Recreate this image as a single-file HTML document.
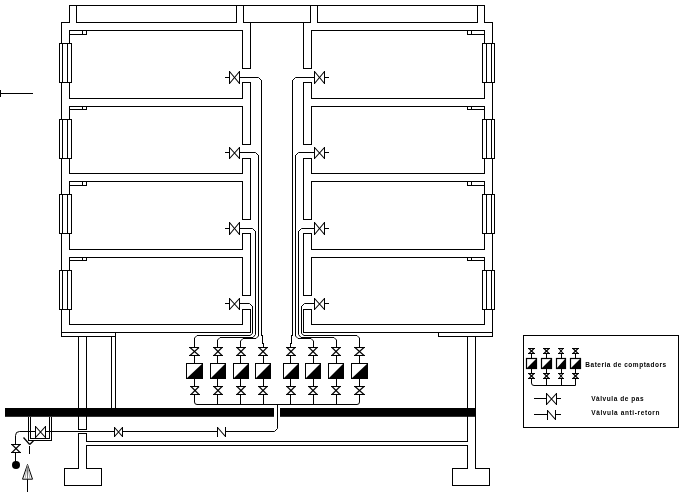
<!DOCTYPE html>
<html lang="ca"><head><meta charset="utf-8"><title>Esquema instal·lació</title>
<style>
html,body{margin:0;padding:0;background:#fff;}
svg{display:block;}
.t{font-family:"Liberation Sans",sans-serif;font-weight:bold;font-size:6.5px;fill:#000;}
</style></head>
<body>
<svg width="687" height="492" viewBox="0 0 687 492" fill="#000">
<rect x="0" y="0" width="687" height="492" fill="#fff"/>
<rect x="69" y="5" width="416" height="1"/>
<rect x="69" y="5" width="1" height="18"/>
<rect x="76" y="5" width="1" height="18"/>
<rect x="236" y="5" width="1" height="18"/>
<rect x="243" y="5" width="1" height="18"/>
<rect x="310" y="5" width="1" height="18"/>
<rect x="317" y="5" width="1" height="18"/>
<rect x="477" y="5" width="1" height="18"/>
<rect x="484" y="5" width="1" height="18"/>
<rect x="61" y="22" width="9" height="1"/>
<rect x="76" y="22" width="161" height="1"/>
<rect x="243" y="22" width="68" height="1"/>
<rect x="317" y="22" width="161" height="1"/>
<rect x="484" y="22" width="9" height="1"/>
<rect x="61" y="22" width="1" height="22"/>
<rect x="61" y="82" width="1" height="38"/>
<rect x="61" y="158" width="1" height="37"/>
<rect x="61" y="233" width="1" height="38"/>
<rect x="61" y="309" width="1" height="28"/>
<rect x="69" y="30" width="1" height="14"/>
<rect x="69" y="82" width="1" height="17"/>
<rect x="59" y="43" width="1" height="40"/>
<rect x="62" y="43" width="1" height="40"/>
<rect x="67" y="43" width="1" height="40"/>
<rect x="71" y="43" width="1" height="40"/>
<rect x="59" y="43" width="13" height="1"/>
<rect x="59" y="82" width="13" height="1"/>
<rect x="69" y="30" width="174" height="1"/>
<rect x="69" y="98" width="174" height="1"/>
<rect x="69" y="34" width="18" height="1"/>
<rect x="82" y="30" width="1" height="5"/>
<rect x="86" y="30" width="1" height="5"/>
<rect x="242" y="30" width="1" height="39"/>
<rect x="242" y="82" width="1" height="17"/>
<rect x="242" y="68" width="9" height="1"/>
<rect x="242" y="82" width="9" height="1"/>
<rect x="69" y="106" width="1" height="14"/>
<rect x="69" y="158" width="1" height="16"/>
<rect x="59" y="119" width="1" height="40"/>
<rect x="62" y="119" width="1" height="40"/>
<rect x="67" y="119" width="1" height="40"/>
<rect x="71" y="119" width="1" height="40"/>
<rect x="59" y="119" width="13" height="1"/>
<rect x="59" y="158" width="13" height="1"/>
<rect x="69" y="106" width="174" height="1"/>
<rect x="69" y="173" width="174" height="1"/>
<rect x="69" y="109" width="18" height="1"/>
<rect x="82" y="106" width="1" height="4"/>
<rect x="86" y="106" width="1" height="4"/>
<rect x="242" y="106" width="1" height="39"/>
<rect x="242" y="158" width="1" height="16"/>
<rect x="242" y="144" width="9" height="1"/>
<rect x="242" y="158" width="9" height="1"/>
<rect x="69" y="181" width="1" height="14"/>
<rect x="69" y="233" width="1" height="17"/>
<rect x="59" y="194" width="1" height="40"/>
<rect x="62" y="194" width="1" height="40"/>
<rect x="67" y="194" width="1" height="40"/>
<rect x="71" y="194" width="1" height="40"/>
<rect x="59" y="194" width="13" height="1"/>
<rect x="59" y="233" width="13" height="1"/>
<rect x="69" y="181" width="174" height="1"/>
<rect x="69" y="249" width="174" height="1"/>
<rect x="69" y="185" width="18" height="1"/>
<rect x="82" y="181" width="1" height="5"/>
<rect x="86" y="181" width="1" height="5"/>
<rect x="242" y="181" width="1" height="39"/>
<rect x="242" y="233" width="1" height="17"/>
<rect x="242" y="219" width="9" height="1"/>
<rect x="242" y="233" width="9" height="1"/>
<rect x="69" y="257" width="1" height="14"/>
<rect x="69" y="309" width="1" height="16"/>
<rect x="59" y="270" width="1" height="40"/>
<rect x="62" y="270" width="1" height="40"/>
<rect x="67" y="270" width="1" height="40"/>
<rect x="71" y="270" width="1" height="40"/>
<rect x="59" y="270" width="13" height="1"/>
<rect x="59" y="309" width="13" height="1"/>
<rect x="69" y="257" width="174" height="1"/>
<rect x="69" y="324" width="174" height="1"/>
<rect x="69" y="260" width="18" height="1"/>
<rect x="82" y="257" width="1" height="4"/>
<rect x="86" y="257" width="1" height="4"/>
<rect x="242" y="257" width="1" height="39"/>
<rect x="242" y="309" width="1" height="16"/>
<rect x="242" y="295" width="9" height="1"/>
<rect x="242" y="309" width="9" height="1"/>
<rect x="250" y="22" width="1" height="47"/>
<rect x="250" y="82" width="1" height="63"/>
<rect x="250" y="158" width="1" height="62"/>
<rect x="250" y="233" width="1" height="63"/>
<rect x="250" y="309" width="1" height="24"/>
<rect x="61" y="332" width="190" height="1"/>
<rect x="492" y="22" width="1" height="22"/>
<rect x="492" y="82" width="1" height="38"/>
<rect x="492" y="158" width="1" height="37"/>
<rect x="492" y="233" width="1" height="38"/>
<rect x="492" y="309" width="1" height="28"/>
<rect x="484" y="30" width="1" height="14"/>
<rect x="484" y="82" width="1" height="17"/>
<rect x="494" y="43" width="1" height="40"/>
<rect x="491" y="43" width="1" height="40"/>
<rect x="486" y="43" width="1" height="40"/>
<rect x="482" y="43" width="1" height="40"/>
<rect x="482" y="43" width="13" height="1"/>
<rect x="482" y="82" width="13" height="1"/>
<rect x="311" y="30" width="174" height="1"/>
<rect x="311" y="98" width="174" height="1"/>
<rect x="467" y="34" width="18" height="1"/>
<rect x="471" y="30" width="1" height="5"/>
<rect x="467" y="30" width="1" height="5"/>
<rect x="311" y="30" width="1" height="39"/>
<rect x="311" y="82" width="1" height="17"/>
<rect x="303" y="68" width="9" height="1"/>
<rect x="303" y="82" width="9" height="1"/>
<rect x="484" y="106" width="1" height="14"/>
<rect x="484" y="158" width="1" height="16"/>
<rect x="494" y="119" width="1" height="40"/>
<rect x="491" y="119" width="1" height="40"/>
<rect x="486" y="119" width="1" height="40"/>
<rect x="482" y="119" width="1" height="40"/>
<rect x="482" y="119" width="13" height="1"/>
<rect x="482" y="158" width="13" height="1"/>
<rect x="311" y="106" width="174" height="1"/>
<rect x="311" y="173" width="174" height="1"/>
<rect x="467" y="109" width="18" height="1"/>
<rect x="471" y="106" width="1" height="4"/>
<rect x="467" y="106" width="1" height="4"/>
<rect x="311" y="106" width="1" height="39"/>
<rect x="311" y="158" width="1" height="16"/>
<rect x="303" y="144" width="9" height="1"/>
<rect x="303" y="158" width="9" height="1"/>
<rect x="484" y="181" width="1" height="14"/>
<rect x="484" y="233" width="1" height="17"/>
<rect x="494" y="194" width="1" height="40"/>
<rect x="491" y="194" width="1" height="40"/>
<rect x="486" y="194" width="1" height="40"/>
<rect x="482" y="194" width="1" height="40"/>
<rect x="482" y="194" width="13" height="1"/>
<rect x="482" y="233" width="13" height="1"/>
<rect x="311" y="181" width="174" height="1"/>
<rect x="311" y="249" width="174" height="1"/>
<rect x="467" y="185" width="18" height="1"/>
<rect x="471" y="181" width="1" height="5"/>
<rect x="467" y="181" width="1" height="5"/>
<rect x="311" y="181" width="1" height="39"/>
<rect x="311" y="233" width="1" height="17"/>
<rect x="303" y="219" width="9" height="1"/>
<rect x="303" y="233" width="9" height="1"/>
<rect x="484" y="257" width="1" height="14"/>
<rect x="484" y="309" width="1" height="16"/>
<rect x="494" y="270" width="1" height="40"/>
<rect x="491" y="270" width="1" height="40"/>
<rect x="486" y="270" width="1" height="40"/>
<rect x="482" y="270" width="1" height="40"/>
<rect x="482" y="270" width="13" height="1"/>
<rect x="482" y="309" width="13" height="1"/>
<rect x="311" y="257" width="174" height="1"/>
<rect x="311" y="324" width="174" height="1"/>
<rect x="467" y="260" width="18" height="1"/>
<rect x="471" y="257" width="1" height="4"/>
<rect x="467" y="257" width="1" height="4"/>
<rect x="311" y="257" width="1" height="39"/>
<rect x="311" y="309" width="1" height="16"/>
<rect x="303" y="295" width="9" height="1"/>
<rect x="303" y="309" width="9" height="1"/>
<rect x="303" y="22" width="1" height="47"/>
<rect x="303" y="82" width="1" height="63"/>
<rect x="303" y="158" width="1" height="62"/>
<rect x="303" y="233" width="1" height="63"/>
<rect x="303" y="309" width="1" height="24"/>
<rect x="303" y="332" width="190" height="1"/>
<rect x="61" y="336" width="55" height="1"/>
<rect x="438" y="336" width="55" height="1"/>
<rect x="115" y="332" width="1" height="77"/>
<rect x="111" y="336" width="1" height="73"/>
<rect x="438" y="332" width="1" height="5"/>
<rect x="78" y="336" width="1" height="94"/>
<rect x="86" y="336" width="1" height="94"/>
<rect x="78" y="429" width="9" height="1"/>
<rect x="78" y="433" width="9" height="1"/>
<rect x="78" y="433" width="1" height="36"/>
<rect x="86" y="433" width="1" height="9"/>
<rect x="86" y="445" width="1" height="24"/>
<rect x="86" y="441" width="382" height="1"/>
<rect x="86" y="445" width="382" height="1"/>
<rect x="467" y="336" width="1" height="106"/>
<rect x="475" y="336" width="1" height="133"/>
<rect x="467" y="445" width="1" height="24"/>
<rect x="64" y="468" width="15" height="1"/>
<rect x="86" y="468" width="16" height="1"/>
<rect x="64" y="468" width="1" height="18"/>
<rect x="101" y="468" width="1" height="18"/>
<rect x="64" y="485" width="38" height="1"/>
<rect x="452" y="468" width="16" height="1"/>
<rect x="475" y="468" width="15" height="1"/>
<rect x="452" y="468" width="1" height="18"/>
<rect x="489" y="468" width="1" height="18"/>
<rect x="452" y="485" width="38" height="1"/>
<rect x="5" y="408" width="269" height="8.8"/>
<rect x="280" y="408" width="196" height="8.8"/>
<rect x="229" y="71" width="1" height="13"/>
<rect x="239" y="71" width="1" height="13"/>
<line x1="229.5" y1="71.5" x2="239.5" y2="83.5" stroke="#000" stroke-width="1.1"/>
<line x1="229.5" y1="83.5" x2="239.5" y2="71.5" stroke="#000" stroke-width="1.1"/>
<rect x="225" y="77" width="5" height="1"/>
<path d="M239.5 77.5 H258.5 L261.5 80.5" fill="none" stroke="#000" stroke-width="1"/>
<rect x="229" y="147" width="1" height="12"/>
<rect x="239" y="147" width="1" height="12"/>
<line x1="229.5" y1="147.5" x2="239.5" y2="158.5" stroke="#000" stroke-width="1.1"/>
<line x1="229.5" y1="158.5" x2="239.5" y2="147.5" stroke="#000" stroke-width="1.1"/>
<rect x="225" y="152" width="5" height="1"/>
<path d="M239.5 152.5 H255.5 L258.5 155.5" fill="none" stroke="#000" stroke-width="1"/>
<rect x="229" y="222" width="1" height="13"/>
<rect x="239" y="222" width="1" height="13"/>
<line x1="229.5" y1="222.5" x2="239.5" y2="234.5" stroke="#000" stroke-width="1.1"/>
<line x1="229.5" y1="234.5" x2="239.5" y2="222.5" stroke="#000" stroke-width="1.1"/>
<rect x="225" y="228" width="5" height="1"/>
<path d="M239.5 228.5 H252.5 L255.5 231.5" fill="none" stroke="#000" stroke-width="1"/>
<rect x="229" y="298" width="1" height="12"/>
<rect x="239" y="298" width="1" height="12"/>
<line x1="229.5" y1="298.5" x2="239.5" y2="309.5" stroke="#000" stroke-width="1.1"/>
<line x1="229.5" y1="309.5" x2="239.5" y2="298.5" stroke="#000" stroke-width="1.1"/>
<rect x="225" y="303" width="5" height="1"/>
<path d="M239.5 303.5 H249.5 L252.5 306.5" fill="none" stroke="#000" stroke-width="1"/>
<rect x="324" y="71" width="1" height="13"/>
<rect x="314" y="71" width="1" height="13"/>
<line x1="324.5" y1="71.5" x2="314.5" y2="83.5" stroke="#000" stroke-width="1.1"/>
<line x1="324.5" y1="83.5" x2="314.5" y2="71.5" stroke="#000" stroke-width="1.1"/>
<rect x="324" y="77" width="5" height="1"/>
<path d="M314.5 77.5 H295.5 L292.5 80.5" fill="none" stroke="#000" stroke-width="1"/>
<rect x="324" y="147" width="1" height="12"/>
<rect x="314" y="147" width="1" height="12"/>
<line x1="324.5" y1="147.5" x2="314.5" y2="158.5" stroke="#000" stroke-width="1.1"/>
<line x1="324.5" y1="158.5" x2="314.5" y2="147.5" stroke="#000" stroke-width="1.1"/>
<rect x="324" y="152" width="5" height="1"/>
<path d="M314.5 152.5 H298.5 L295.5 155.5" fill="none" stroke="#000" stroke-width="1"/>
<rect x="324" y="222" width="1" height="13"/>
<rect x="314" y="222" width="1" height="13"/>
<line x1="324.5" y1="222.5" x2="314.5" y2="234.5" stroke="#000" stroke-width="1.1"/>
<line x1="324.5" y1="234.5" x2="314.5" y2="222.5" stroke="#000" stroke-width="1.1"/>
<rect x="324" y="228" width="5" height="1"/>
<path d="M314.5 228.5 H301.5 L298.5 231.5" fill="none" stroke="#000" stroke-width="1"/>
<rect x="324" y="298" width="1" height="12"/>
<rect x="314" y="298" width="1" height="12"/>
<line x1="324.5" y1="298.5" x2="314.5" y2="309.5" stroke="#000" stroke-width="1.1"/>
<line x1="324.5" y1="309.5" x2="314.5" y2="298.5" stroke="#000" stroke-width="1.1"/>
<rect x="324" y="303" width="5" height="1"/>
<path d="M314.5 303.5 H304.5 L301.5 306.5" fill="none" stroke="#000" stroke-width="1"/>
<rect x="261" y="80" width="1" height="256"/>
<rect x="262" y="335" width="1" height="9"/>
<rect x="263" y="343" width="1" height="5"/>
<path d="M258.5 155 V336 L256.0 338.5 H243.0 L240.5 341.0 V347.5" fill="none" stroke="#000" stroke-width="1"/>
<path d="M255.5 231 V334.5 L253.0 337.5 H220.0 L217.5 340.0 V347.5" fill="none" stroke="#000" stroke-width="1"/>
<path d="M252.5 306 V333.5 L250.0 335.5 H197.0 L194.5 338.0 V347.5" fill="none" stroke="#000" stroke-width="1"/>
<rect x="292" y="80" width="1" height="256"/>
<rect x="291" y="335" width="1" height="9"/>
<rect x="290" y="343" width="1" height="5"/>
<path d="M295.5 155 V336 L298.0 338.5 H311.0 L313.5 341.0 V347.5" fill="none" stroke="#000" stroke-width="1"/>
<path d="M298.5 231 V334.5 L301.0 337.5 H334.0 L336.5 340.0 V347.5" fill="none" stroke="#000" stroke-width="1"/>
<path d="M301.5 306 V333.5 L304.0 335.5 H357.0 L359.5 338.0 V347.5" fill="none" stroke="#000" stroke-width="1"/>
<rect x="189" y="347" width="10" height="1"/>
<rect x="189" y="355" width="11" height="1"/>
<line x1="190.0" y1="347.5" x2="199.0" y2="355.5" stroke="#000" stroke-width="1.1"/>
<line x1="199.0" y1="347.5" x2="190.0" y2="355.5" stroke="#000" stroke-width="1.1"/>
<rect x="194" y="355" width="1" height="9"/>
<rect x="186.5" y="363.5" width="16" height="15" fill="#fff" stroke="#000"/>
<polygon points="186.5,378.5 202.5,363.5 203,379 186,379"/>
<rect x="194" y="378" width="1" height="9"/>
<rect x="190" y="386" width="9" height="1"/>
<rect x="190" y="394" width="10" height="1"/>
<line x1="191.0" y1="386.5" x2="199.0" y2="394.5" stroke="#000" stroke-width="1.1"/>
<line x1="199.0" y1="386.5" x2="191.0" y2="394.5" stroke="#000" stroke-width="1.1"/>
<rect x="213" y="347" width="10" height="1"/>
<rect x="213" y="355" width="10" height="1"/>
<line x1="214.0" y1="347.5" x2="222.0" y2="355.5" stroke="#000" stroke-width="1.1"/>
<line x1="222.0" y1="347.5" x2="214.0" y2="355.5" stroke="#000" stroke-width="1.1"/>
<rect x="217" y="355" width="1" height="9"/>
<rect x="210.5" y="363.5" width="15" height="15" fill="#fff" stroke="#000"/>
<polygon points="210.5,378.5 225.5,363.5 226,379 210,379"/>
<rect x="217" y="378" width="1" height="9"/>
<rect x="213" y="386" width="10" height="1"/>
<rect x="213" y="394" width="10" height="1"/>
<line x1="214.0" y1="386.5" x2="222.0" y2="394.5" stroke="#000" stroke-width="1.1"/>
<line x1="222.0" y1="386.5" x2="214.0" y2="394.5" stroke="#000" stroke-width="1.1"/>
<rect x="236" y="347" width="10" height="1"/>
<rect x="236" y="355" width="10" height="1"/>
<line x1="237.0" y1="347.5" x2="245.0" y2="355.5" stroke="#000" stroke-width="1.1"/>
<line x1="245.0" y1="347.5" x2="237.0" y2="355.5" stroke="#000" stroke-width="1.1"/>
<rect x="240" y="355" width="1" height="9"/>
<rect x="233.5" y="363.5" width="15" height="15" fill="#fff" stroke="#000"/>
<polygon points="233.5,378.5 248.5,363.5 249,379 233,379"/>
<rect x="240" y="378" width="1" height="9"/>
<rect x="236" y="386" width="10" height="1"/>
<rect x="236" y="394" width="10" height="1"/>
<line x1="237.0" y1="386.5" x2="245.0" y2="394.5" stroke="#000" stroke-width="1.1"/>
<line x1="245.0" y1="386.5" x2="237.0" y2="394.5" stroke="#000" stroke-width="1.1"/>
<rect x="258" y="347" width="10" height="1"/>
<rect x="258" y="355" width="10" height="1"/>
<line x1="259.0" y1="347.5" x2="267.0" y2="355.5" stroke="#000" stroke-width="1.1"/>
<line x1="267.0" y1="347.5" x2="259.0" y2="355.5" stroke="#000" stroke-width="1.1"/>
<rect x="263" y="355" width="1" height="9"/>
<rect x="255.5" y="363.5" width="15" height="15" fill="#fff" stroke="#000"/>
<polygon points="255.5,378.5 270.5,363.5 271,379 255,379"/>
<rect x="263" y="378" width="1" height="9"/>
<rect x="258" y="386" width="10" height="1"/>
<rect x="258" y="394" width="10" height="1"/>
<line x1="259.0" y1="386.5" x2="267.0" y2="394.5" stroke="#000" stroke-width="1.1"/>
<line x1="267.0" y1="386.5" x2="259.0" y2="394.5" stroke="#000" stroke-width="1.1"/>
<rect x="286" y="347" width="10" height="1"/>
<rect x="286" y="355" width="10" height="1"/>
<line x1="287.0" y1="347.5" x2="295.0" y2="355.5" stroke="#000" stroke-width="1.1"/>
<line x1="295.0" y1="347.5" x2="287.0" y2="355.5" stroke="#000" stroke-width="1.1"/>
<rect x="290" y="355" width="1" height="9"/>
<rect x="283.5" y="363.5" width="15" height="15" fill="#fff" stroke="#000"/>
<polygon points="283.5,378.5 298.5,363.5 299,379 283,379"/>
<rect x="290" y="378" width="1" height="9"/>
<rect x="286" y="386" width="10" height="1"/>
<rect x="286" y="394" width="10" height="1"/>
<line x1="287.0" y1="386.5" x2="295.0" y2="394.5" stroke="#000" stroke-width="1.1"/>
<line x1="295.0" y1="386.5" x2="287.0" y2="394.5" stroke="#000" stroke-width="1.1"/>
<rect x="308" y="347" width="10" height="1"/>
<rect x="308" y="355" width="10" height="1"/>
<line x1="309.0" y1="347.5" x2="317.0" y2="355.5" stroke="#000" stroke-width="1.1"/>
<line x1="317.0" y1="347.5" x2="309.0" y2="355.5" stroke="#000" stroke-width="1.1"/>
<rect x="313" y="355" width="1" height="9"/>
<rect x="305.5" y="363.5" width="15" height="15" fill="#fff" stroke="#000"/>
<polygon points="305.5,378.5 320.5,363.5 321,379 305,379"/>
<rect x="313" y="378" width="1" height="9"/>
<rect x="308" y="386" width="10" height="1"/>
<rect x="308" y="394" width="10" height="1"/>
<line x1="309.0" y1="386.5" x2="317.0" y2="394.5" stroke="#000" stroke-width="1.1"/>
<line x1="317.0" y1="386.5" x2="309.0" y2="394.5" stroke="#000" stroke-width="1.1"/>
<rect x="331" y="347" width="10" height="1"/>
<rect x="331" y="355" width="10" height="1"/>
<line x1="332.0" y1="347.5" x2="340.0" y2="355.5" stroke="#000" stroke-width="1.1"/>
<line x1="340.0" y1="347.5" x2="332.0" y2="355.5" stroke="#000" stroke-width="1.1"/>
<rect x="336" y="355" width="1" height="9"/>
<rect x="328.5" y="363.5" width="15" height="15" fill="#fff" stroke="#000"/>
<polygon points="328.5,378.5 343.5,363.5 344,379 328,379"/>
<rect x="336" y="378" width="1" height="9"/>
<rect x="331" y="386" width="10" height="1"/>
<rect x="331" y="394" width="10" height="1"/>
<line x1="332.0" y1="386.5" x2="340.0" y2="394.5" stroke="#000" stroke-width="1.1"/>
<line x1="340.0" y1="386.5" x2="332.0" y2="394.5" stroke="#000" stroke-width="1.1"/>
<rect x="354" y="347" width="11" height="1"/>
<rect x="354" y="355" width="11" height="1"/>
<line x1="355.0" y1="347.5" x2="364.0" y2="355.5" stroke="#000" stroke-width="1.1"/>
<line x1="364.0" y1="347.5" x2="355.0" y2="355.5" stroke="#000" stroke-width="1.1"/>
<rect x="359" y="355" width="1" height="9"/>
<rect x="351.5" y="363.5" width="16" height="15" fill="#fff" stroke="#000"/>
<polygon points="351.5,378.5 367.5,363.5 368,379 351,379"/>
<rect x="359" y="378" width="1" height="9"/>
<rect x="354" y="386" width="11" height="1"/>
<rect x="354" y="394" width="11" height="1"/>
<line x1="355.0" y1="386.5" x2="364.0" y2="394.5" stroke="#000" stroke-width="1.1"/>
<line x1="364.0" y1="386.5" x2="355.0" y2="394.5" stroke="#000" stroke-width="1.1"/>
<path d="M194.5 394.5 V402 Q194.5 404.5 197 404.5 H357 Q359.5 404.5 359.5 402 V394.5" fill="none" stroke="#000" stroke-width="1"/>
<rect x="217" y="394" width="1" height="11"/>
<rect x="240" y="394" width="1" height="11"/>
<rect x="263" y="394" width="1" height="11"/>
<rect x="290" y="394" width="1" height="11"/>
<rect x="313" y="394" width="1" height="11"/>
<rect x="336" y="394" width="1" height="11"/>
<path d="M277.5 404.5 V428.5 L274.5 431.5 H225.5" fill="none" stroke="#000" stroke-width="1"/>
<rect x="122" y="431" width="96" height="1"/>
<rect x="45" y="431" width="70" height="1"/>
<path d="M35.5 431.5 H19.5 Q15.5 431.5 15.5 435.5 V444.5" fill="none" stroke="#000" stroke-width="1"/>
<rect x="217" y="427" width="1" height="10"/>
<rect x="225" y="427" width="1" height="10"/>
<line x1="217.5" y1="427.5" x2="225.5" y2="436.5" stroke="#000" stroke-width="1.1"/>
<rect x="114" y="427" width="1" height="10"/>
<rect x="122" y="427" width="1" height="10"/>
<line x1="114.5" y1="427.5" x2="122.5" y2="436.5" stroke="#000" stroke-width="1.1"/>
<line x1="114.5" y1="436.5" x2="122.5" y2="427.5" stroke="#000" stroke-width="1.1"/>
<rect x="28" y="417" width="1" height="24"/>
<rect x="51" y="417" width="1" height="24"/>
<rect x="28" y="440" width="24" height="1"/>
<rect x="30" y="417" width="1" height="22"/>
<rect x="49" y="417" width="1" height="22"/>
<rect x="30" y="438" width="20" height="1"/>
<rect x="35" y="426" width="1" height="12"/>
<rect x="45" y="426" width="1" height="12"/>
<line x1="35.5" y1="426.5" x2="45.5" y2="437.5" stroke="#000" stroke-width="1.1"/>
<line x1="35.5" y1="437.5" x2="45.5" y2="426.5" stroke="#000" stroke-width="1.1"/>
<rect x="11" y="444" width="10" height="1"/>
<rect x="11" y="452" width="10" height="1"/>
<line x1="12.0" y1="444.5" x2="20.0" y2="452.5" stroke="#000" stroke-width="1.1"/>
<line x1="20.0" y1="444.5" x2="12.0" y2="452.5" stroke="#000" stroke-width="1.1"/>
<rect x="15" y="452" width="1" height="11"/>
<circle cx="16" cy="465" r="4"/>
<line x1="23.5" y1="437.5" x2="29.7" y2="444.5" stroke="#000" stroke-width="1.3"/>
<line x1="33.5" y1="440.8" x2="29.7" y2="444.5" stroke="#000" stroke-width="1.3"/>
<rect x="29" y="446" width="1" height="8"/>
<rect x="27" y="479" width="1" height="13"/>
<polygon points="27.5,464.5 22.5,479.2 32.5,479.2" fill="#fff" stroke="#000" stroke-width="1"/>
<line x1="27.5" y1="465" x2="27.5" y2="479" stroke="#777" stroke-width="1"/>
<line x1="27.5" y1="465" x2="25" y2="479" stroke="#999" stroke-width="0.8"/>
<line x1="27.5" y1="465" x2="30" y2="479" stroke="#999" stroke-width="0.8"/>
<rect x="0" y="93" width="33" height="1"/>
<rect x="0" y="90" width="1" height="7"/>
<rect x="523.5" y="335.5" width="155" height="92" fill="none" stroke="#000"/>
<rect x="528" y="348" width="7" height="1"/>
<rect x="528" y="353" width="7" height="1"/>
<line x1="529.0" y1="348.5" x2="534.0" y2="353.5" stroke="#000" stroke-width="1.1"/>
<line x1="534.0" y1="348.5" x2="529.0" y2="353.5" stroke="#000" stroke-width="1.1"/>
<rect x="528" y="373" width="7" height="1"/>
<rect x="528" y="378" width="7" height="1"/>
<line x1="529.0" y1="373.5" x2="534.0" y2="378.5" stroke="#000" stroke-width="1.1"/>
<line x1="534.0" y1="373.5" x2="529.0" y2="378.5" stroke="#000" stroke-width="1.1"/>
<rect x="531" y="353" width="1" height="6"/>
<rect x="526.5" y="358.5" width="10" height="10" fill="#fff" stroke="#000" stroke-width="1.2"/>
<polygon points="526.5,368.5 536.5,358.5 537,369 526,369"/>
<rect x="531" y="368" width="1" height="6"/>
<rect x="543" y="348" width="7" height="1"/>
<rect x="543" y="353" width="7" height="1"/>
<line x1="544.0" y1="348.5" x2="549.0" y2="353.5" stroke="#000" stroke-width="1.1"/>
<line x1="549.0" y1="348.5" x2="544.0" y2="353.5" stroke="#000" stroke-width="1.1"/>
<rect x="543" y="373" width="7" height="1"/>
<rect x="543" y="378" width="7" height="1"/>
<line x1="544.0" y1="373.5" x2="549.0" y2="378.5" stroke="#000" stroke-width="1.1"/>
<line x1="549.0" y1="373.5" x2="544.0" y2="378.5" stroke="#000" stroke-width="1.1"/>
<rect x="546" y="353" width="1" height="6"/>
<rect x="541.5" y="358.5" width="10" height="10" fill="#fff" stroke="#000" stroke-width="1.2"/>
<polygon points="541.5,368.5 551.5,358.5 552,369 541,369"/>
<rect x="546" y="368" width="1" height="6"/>
<rect x="558" y="348" width="6" height="1"/>
<rect x="558" y="353" width="6" height="1"/>
<line x1="559.0" y1="348.5" x2="563.0" y2="353.5" stroke="#000" stroke-width="1.1"/>
<line x1="563.0" y1="348.5" x2="559.0" y2="353.5" stroke="#000" stroke-width="1.1"/>
<rect x="558" y="373" width="6" height="1"/>
<rect x="558" y="378" width="6" height="1"/>
<line x1="559.0" y1="373.5" x2="563.0" y2="378.5" stroke="#000" stroke-width="1.1"/>
<line x1="563.0" y1="373.5" x2="559.0" y2="378.5" stroke="#000" stroke-width="1.1"/>
<rect x="561" y="353" width="1" height="6"/>
<rect x="556.5" y="358.5" width="9" height="10" fill="#fff" stroke="#000" stroke-width="1.2"/>
<polygon points="556.5,368.5 565.5,358.5 566,369 556,369"/>
<rect x="561" y="368" width="1" height="6"/>
<rect x="572" y="348" width="7" height="1"/>
<rect x="572" y="353" width="7" height="1"/>
<line x1="573.0" y1="348.5" x2="578.0" y2="353.5" stroke="#000" stroke-width="1.1"/>
<line x1="578.0" y1="348.5" x2="573.0" y2="353.5" stroke="#000" stroke-width="1.1"/>
<rect x="572" y="373" width="7" height="1"/>
<rect x="572" y="378" width="7" height="1"/>
<line x1="573.0" y1="373.5" x2="578.0" y2="378.5" stroke="#000" stroke-width="1.1"/>
<line x1="578.0" y1="373.5" x2="573.0" y2="378.5" stroke="#000" stroke-width="1.1"/>
<rect x="575" y="353" width="1" height="6"/>
<rect x="570.5" y="358.5" width="10" height="10" fill="#fff" stroke="#000" stroke-width="1.2"/>
<polygon points="570.5,368.5 580.5,358.5 581,369 570,369"/>
<rect x="575" y="368" width="1" height="6"/>
<path d="M531.5 378.5 V383 Q531.5 385.5 534 385.5 H575.5 V378.5" fill="none" stroke="#000" stroke-width="1"/>
<rect x="546" y="378" width="1" height="8"/>
<rect x="561" y="378" width="1" height="8"/>
<rect x="534" y="398" width="13" height="1"/>
<rect x="546" y="393" width="1" height="12"/>
<rect x="556" y="393" width="1" height="12"/>
<line x1="546.5" y1="393.5" x2="556.5" y2="404.5" stroke="#000" stroke-width="1.1"/>
<line x1="546.5" y1="404.5" x2="556.5" y2="393.5" stroke="#000" stroke-width="1.1"/>
<rect x="556" y="398" width="5" height="1"/>
<rect x="534" y="414" width="14" height="1"/>
<rect x="547" y="410" width="1" height="10"/>
<rect x="555" y="410" width="1" height="10"/>
<line x1="547.5" y1="410.5" x2="555.5" y2="419.5" stroke="#000" stroke-width="1.1"/>
<rect x="555" y="414" width="6" height="1"/>
<g style="filter:grayscale(1)">
<text x="585.3" y="367.2" class="t" textLength="80.8" lengthAdjust="spacing">Bateria de comptadors</text>
<text x="591.2" y="401" class="t" textLength="52.3" lengthAdjust="spacing">Vàlvula de pas</text>
<text x="591.2" y="415" class="t" textLength="68.2" lengthAdjust="spacing">Vàlvula anti-retorn</text>
</g>
</svg>
</body></html>
